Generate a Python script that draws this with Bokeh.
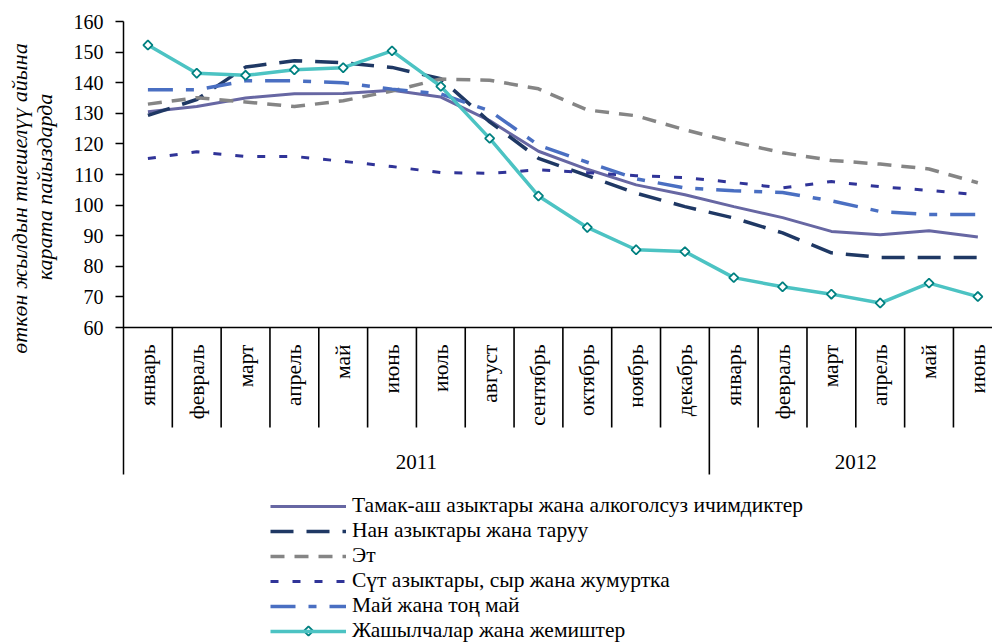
import numpy as np
from bokeh.plotting import figure
from bokeh.layouts import row
from bokeh.models import Range1d, FixedTicker, Legend, LegendItem
from bokeh.core.properties import value
from bokeh.embed import file_html
from bokeh.resources import INLINE

# ---------------- data ----------------
months = ["январь", "февраль", "март", "апрель", "май", "июнь", "июль", "август",
          "сентябрь", "октябрь", "ноябрь", "декабрь",
          "январь", "февраль", "март", "апрель", "май", "июнь"]
years = ["2011", "2012"]
year_sizes = [12, 6]
y_ticks = [60, 70, 80, 90, 100, 110, 120, 130, 140, 150, 160]

series_names = [
    "Тамак-аш азыктары жана алкоголсуз ичимдиктер",
    "Нан азыктары жана таруу",
    "Эт",
    "Сүт азыктары, сыр жана жумуртка",
    "Май жана тоң май",
    "Жашылчалар жана жемиштер",
]
food = [130.5, 132.2, 135.0, 136.4, 136.5, 137.5, 135.3, 127.6, 117.6, 111.7, 106.6, 103.4,
        99.5, 95.9, 91.4, 90.3, 91.6, 89.6]
bread = [129.3, 134.5, 145.1, 147.2, 146.5, 145.0, 141.3, 127.2, 115.3, 109.6, 103.9, 99.5,
         95.8, 90.9, 84.4, 82.9, 82.9, 82.9]
meat = [133.0, 135.1, 133.7, 132.2, 134.1, 137.3, 141.2, 140.8, 138.0, 131.1, 129.2, 124.6,
        120.6, 117.1, 114.6, 113.4, 111.8, 107.3]
dairy = [115.2, 117.4, 115.9, 115.9, 114.3, 112.6, 110.6, 110.4, 111.5, 110.6, 109.6, 109.0,
         107.4, 105.6, 107.7, 106.0, 104.8, 103.4]
oil = [137.7, 137.7, 140.6, 140.6, 140.0, 137.9, 136.3, 130.8, 119.6, 114.0, 108.6, 105.6,
       104.7, 104.1, 101.4, 97.9, 96.9, 96.9]
veg = [152.3, 143.1, 142.4, 144.2, 144.9, 150.4, 138.8, 121.8, 103.0, 92.7, 85.4, 84.8,
       76.3, 73.3, 70.9, 68.0, 74.5, 70.1]

y_label_lines = ["өткөн жылдын тиешелүү айына", "карата пайыздарда"]

# ---------------- layout ----------------
FONT = "Liberation Serif"
TOTAL_W, H = 992, 642
TITLE_W = 60
W = TOTAL_W - TITLE_W
FRAME_X = 123                # screen column of the plot frame's left edge
LEFT = FRAME_X - TITLE_W
TOP = 21
PX_PER_CAT = 48.82
PX_PER_UNIT = 3.06
X_END = (W - LEFT) / PX_PER_CAT
Y_TOP = 160
Y_BOTTOM = Y_TOP - (H - TOP) / PX_PER_UNIT


def ys(py):  # screen row -> data y
    return Y_TOP - (py - TOP) / PX_PER_UNIT


def xs(px):  # screen column -> data x
    return (px - FRAME_X) / PX_PER_CAT


# ---- narrow figure holding the rotated y-axis title ----
t = figure(width=TITLE_W, height=H, x_range=Range1d(0, TITLE_W), y_range=Range1d(H, 0),
           output_backend="svg", toolbar_location=None, x_axis_location=None,
           y_axis_location=None, min_border=0)
t.outline_line_color = None
t.grid.visible = False
t.text(x=[19, 43.5], y=[183, 171], text=y_label_lines, angle=np.pi / 2, text_align="center",
       text_baseline="middle", text_font=value(FONT), text_font_size="22px",
       text_font_style="italic", text_color="black")

# ---- main figure ----
p = figure(width=W, height=H, x_range=Range1d(0, X_END), y_range=Range1d(Y_BOTTOM, Y_TOP),
           output_backend="svg", toolbar_location=None, x_axis_location=None,
           min_border_left=LEFT, min_border_right=0, min_border_top=TOP, min_border_bottom=0)
p.xgrid.visible = False
p.ygrid.visible = False
p.outline_line_color = None

ax = p.yaxis[0]
ax.ticker = FixedTicker(ticks=y_ticks)
ax.bounds = (ys(474), Y_TOP)
ax.axis_line_width = 1.5
ax.axis_line_color = "black"
ax.major_tick_out = 8
ax.major_tick_in = 0
ax.major_tick_line_width = 1.5
ax.minor_tick_out = 0
ax.minor_tick_in = 0
ax.major_label_standoff = 12
ax.major_label_text_font = FONT
ax.major_label_text_font_size = "20px"
ax.major_label_text_color = "black"

n = len(months)
xc = [i + 0.5 for i in range(n)]

# category axis: base line, separators, month and year labels
p.segment(x0=[0], y0=[60], x1=[X_END], y1=[60], line_color="black", line_width=1.5)
bounds_year = np.cumsum(year_sizes)[:-1].tolist()
sep_x = [i for i in range(1, n)]
sep_y1 = [ys(474) if i in bounds_year else ys(427) for i in sep_x]
p.segment(x0=sep_x, y0=[60] * len(sep_x), x1=sep_x, y1=sep_y1, line_color="black", line_width=1.6)

p.text(x=xc, y=[ys(344)] * n, text=months, angle=np.pi / 2, text_align="right",
       text_baseline="middle", text_font=value(FONT), text_font_size="21.5px", text_color="black")

starts = np.concatenate([[0], np.cumsum(year_sizes)[:-1]])
year_x = [s + sz / 2 for s, sz in zip(starts, year_sizes)]
p.text(x=year_x, y=[ys(461)] * len(years), text=years, text_align="center",
       text_baseline="middle", text_font=value(FONT), text_font_size="21px", text_color="black")

# series
r_food = p.line(xc, food, line_color="#6767A3", line_width=3)
r_bread = p.line(xc, bread, line_color="#1F3864", line_width=3.5, line_dash="23 13")
r_meat = p.line(xc, meat, line_color="#858585", line_width=3.5, line_dash="14 10")
r_dairy = p.line(xc, dairy, line_color="#303498", line_width=3, line_dash="8 14")
r_oil = p.line(xc, oil, line_color="#4A6FC2", line_width=3.5, line_dash="25 13 8 13")
r_veg = p.line(xc, veg, line_color="#4CC3C3", line_width=3.5)
MK = dict(marker="square", angle=np.pi / 4, size=6.5, fill_color="white",
          line_color="#008080", line_width=1.8)
r_veg_pts = p.scatter(xc, veg, **MK)

# legend
LG_X, LG_Y = 147, -1          # offset of legend's bottom-left from frame's bottom-left
GLYPH_W, ROW_H = 76, 24
items = [LegendItem(label=nm, renderers=[r]) for nm, r in
         zip(series_names, [r_food, r_bread, r_meat, r_dairy, r_oil, r_veg])]
legend = Legend(items=items, location=(LG_X, LG_Y), orientation="vertical",
                glyph_width=GLYPH_W, glyph_height=ROW_H, label_height=ROW_H, spacing=0,
                padding=0, margin=0, label_standoff=6,
                label_text_font=FONT, label_text_font_size="21.5px", label_text_color="black",
                border_line_color=None, background_fill_alpha=0)
p.add_layout(legend)

# diamond symbol on the last legend row (Bokeh legends draw markers unrotated)
last_row_py = H - LG_Y - 12.5
p.scatter([xs(FRAME_X + LG_X + GLYPH_W / 2)], [ys(last_row_py)], **MK)

open("out.html", "w").write(file_html(row(t, p), INLINE))
